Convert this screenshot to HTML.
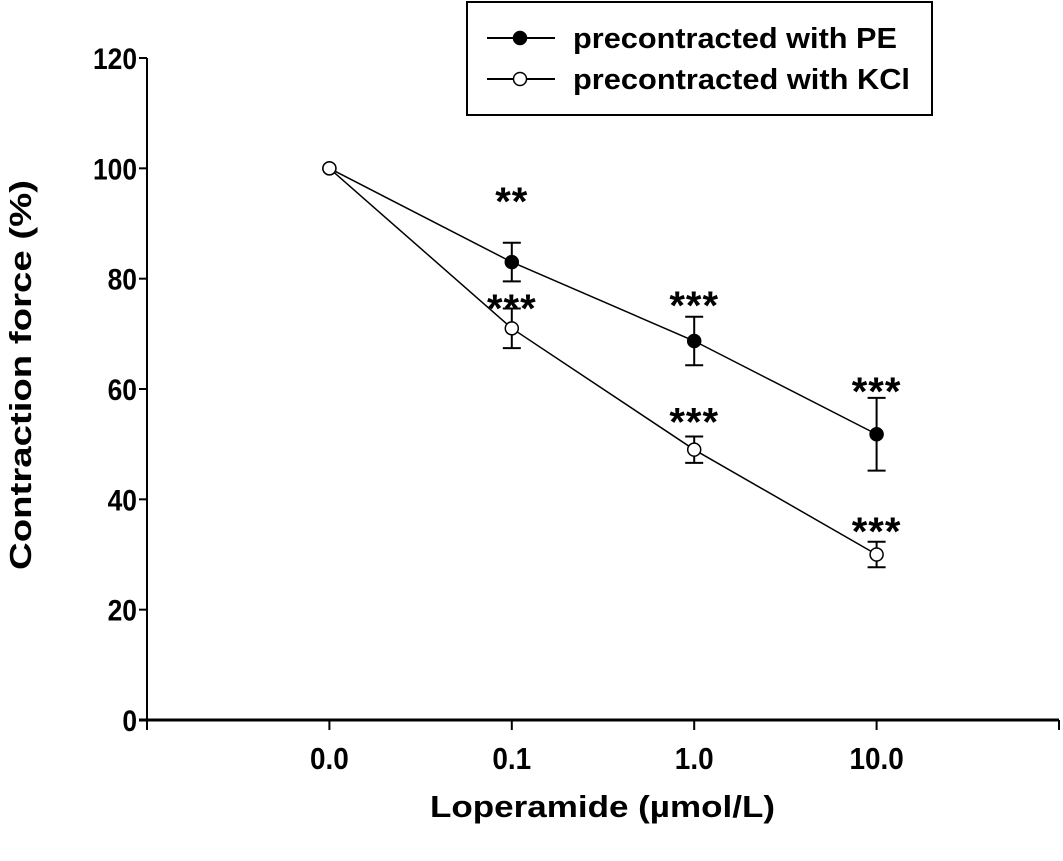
<!DOCTYPE html>
<html><head><meta charset="utf-8"><style>
body{margin:0;background:#fff}
svg text{font-family:"Liberation Sans",Arial,sans-serif;font-weight:bold;fill:#000}
</style></head><body>
<svg width="1063" height="856" viewBox="0 0 1063 856">
<g id="axes"></g>
<g id="marks"></g>
<g>
<rect x="467" y="2" width="465" height="113" fill="#fff" stroke="#000" stroke-width="2"/>
<g>
<line x1="487" y1="38" x2="555" y2="38" stroke="#000" stroke-width="2"/>
<circle cx="520" cy="38" r="6.5" fill="#000" stroke="#000" stroke-width="1.5"/>
<text x="573" y="48" font-size="29" textLength="324" lengthAdjust="spacingAndGlyphs">precontracted with PE</text></g>
<g>
<line x1="487" y1="79" x2="555" y2="79" stroke="#000" stroke-width="2"/>
<circle cx="520" cy="79" r="6.5" fill="#fff" stroke="#000" stroke-width="1.5"/>
<text x="573" y="89" font-size="29" textLength="337" lengthAdjust="spacingAndGlyphs">precontracted with KCl</text></g>
</g>
<text x="430" y="817" font-size="31" textLength="345" lengthAdjust="spacingAndGlyphs">Loperamide (µmol/L)</text>
<text transform="translate(31,570) rotate(-90)" font-size="31" textLength="390" lengthAdjust="spacingAndGlyphs">Contraction force (%)</text>
</svg>
<script>
const categories=["0.0","0.1","1.0","10.0"];
const yTicks=[0,20,40,60,80,100,120];
const peValues=[100,83,68.7,51.8];
const peErr=[0,3.5,4.4,6.6];
const peStars=["","**","***","***"];
const peStarLevel=[0,95.5,76.7,61.1];
const kclValues=[100,71,49,30];
const kclErr=[0,3.6,2.4,2.3];
const kclStars=["","***","***","***"];
const kclStarLevel=[0,76.1,55.6,35.7];
const NS="http://www.w3.org/2000/svg";
const x0=147,x1=1059,yTop=58,yBot=720;
function xs(i){return x0+(i+1)*(x1-x0)/(categories.length+1);}
function ys(v){return yBot-(v/120)*(yBot-yTop);}
function mk(tag,attrs,parent){const e=document.createElementNS(NS,tag);for(const k in attrs)e.setAttribute(k,attrs[k]);parent.appendChild(e);return e;}
const axes=document.getElementById('axes'),marks=document.getElementById('marks');
let yl=mk('line',{x1:x0,y1:yTop,x2:x0,y2:yBot,stroke:'#000','stroke-width':2},axes);


let xl=mk('line',{x1:x0-8,y1:yBot,x2:x1,y2:yBot,stroke:'#000','stroke-width':3},axes);


yTicks.forEach(v=>{const y=ys(v);
 mk('line',{x1:x0-8,y1:y,x2:x0,y2:y,stroke:'#000','stroke-width':2},axes);
 const t=mk('text',{transform:'translate(137,'+(y+11)+') scale(0.88,1)','font-size':30,'text-anchor':'end'},axes);t.textContent=v;
 
 });
for(let i=-1;i<=categories.length;i++){const x=xs(i);mk('line',{x1:x,y1:yBot,x2:x,y2:yBot+10,stroke:'#000','stroke-width':2},axes);}
categories.forEach((c,i)=>{const t=mk('text',{transform:'translate('+xs(i)+',769) scale(0.9,1)','font-size':31,'text-anchor':'middle'},axes);t.textContent=c;
 
 });
function series(vals,errs,stars,levels,fill,name){
 const g=mk('g',{},marks);
 
 
 mk('polyline',{points:vals.map((v,i)=>xs(i)+','+ys(v)).join(' '),fill:'none',stroke:'#000','stroke-width':1.5},g);
 vals.forEach((v,i)=>{const x=xs(i);
  if(errs[i]>0){const a=ys(v+errs[i]),b=ys(v-errs[i]);
   mk('line',{x1:x,y1:a,x2:x,y2:b,stroke:'#000','stroke-width':2},g);
   mk('line',{x1:x-9,y1:a,x2:x+9,y2:a,stroke:'#000','stroke-width':2},g);
   mk('line',{x1:x-9,y1:b,x2:x+9,y2:b,stroke:'#000','stroke-width':2},g);}
  const c=mk('circle',{cx:x,cy:ys(v),r:6.5,fill:fill,stroke:'#000','stroke-width':1.5},g);
  
  
  if(stars[i]){const t=mk('text',{x:x,y:ys(levels[i])+22,'font-size':40,'text-anchor':'middle','letter-spacing':'1'},g);t.textContent=stars[i];
   
   }
 });}
series(peValues,peErr,peStars,peStarLevel,'#000','series-pe');
series(kclValues,kclErr,kclStars,kclStarLevel,'#fff','series-kcl');
</script>
</body></html>
